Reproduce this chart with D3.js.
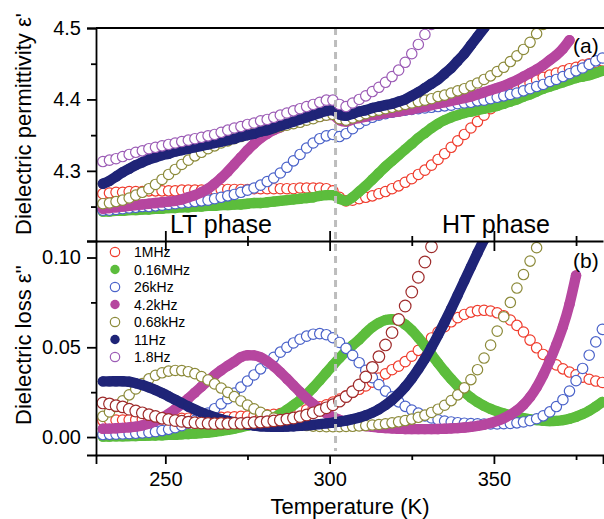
<!DOCTYPE html>
<html><head><meta charset="utf-8">
<script src="https://cdn.jsdelivr.net/npm/d3@7"></script>
<style>
html,body{margin:0;padding:0;background:#fff;}
svg{display:block;font-family:"Liberation Sans",Arial,sans-serif;}
</style></head>
<body><svg id="c" width="604" height="519"></svg>
<script>
// Temperature grid (K)
const temps = [231,233,235,237,239,241,243,245,247,249,251,253,255,257,259,261,263,265,267,269,271,273,275,277,279,281,283,285,287,289,291,293,295,297,299,301,303,305,307,309,311,313,315,317,319,321,323,325,327,329,331,333,335,337,339,341,343,345,347,349,351,353,355,357,359,361,363,365,367,369,371,373,375,377,379,381,383];

const seriesNames = ["1MHz","0.16MHz","26kHz","4.2kHz","0.68kHz","11Hz","1.8Hz"];

// (a) Dielectric permittivity ε'
const permit1MHz = [4.268,4.269,4.270,4.270,4.271,4.271,4.271,4.272,4.272,4.272,4.272,4.272,4.273,4.273,4.273,4.273,4.273,4.274,4.274,4.274,4.274,4.274,4.274,4.275,4.275,4.275,4.275,4.275,4.275,4.275,4.276,4.276,4.276,4.276,4.275,4.272,4.263,4.258,4.259,4.261,4.263,4.265,4.268,4.271,4.275,4.279,4.284,4.289,4.295,4.301,4.308,4.316,4.324,4.333,4.342,4.351,4.360,4.369,4.378,4.387,4.395,4.402,4.409,4.414,4.419,4.423,4.427,4.431,4.434,4.437,4.440,4.443,4.445,4.448,4.450,4.452,4.454];
const permit016MHz = [4.243,4.243,4.244,4.244,4.245,4.245,4.246,4.246,4.247,4.247,4.248,4.248,4.249,4.249,4.250,4.250,4.251,4.251,4.252,4.252,4.253,4.253,4.254,4.255,4.255,4.256,4.257,4.258,4.259,4.260,4.261,4.262,4.263,4.265,4.266,4.266,4.261,4.258,4.263,4.271,4.279,4.288,4.297,4.306,4.314,4.322,4.330,4.338,4.346,4.353,4.360,4.366,4.371,4.375,4.378,4.381,4.383,4.385,4.387,4.389,4.391,4.394,4.397,4.400,4.404,4.407,4.411,4.415,4.418,4.421,4.424,4.427,4.430,4.432,4.434,4.437,4.440];
const permit26kHz = [4.245,4.245,4.246,4.247,4.248,4.249,4.250,4.250,4.251,4.252,4.253,4.254,4.255,4.256,4.257,4.258,4.259,4.261,4.263,4.265,4.267,4.270,4.273,4.276,4.280,4.285,4.290,4.297,4.305,4.314,4.323,4.332,4.339,4.345,4.349,4.351,4.348,4.352,4.359,4.366,4.371,4.375,4.378,4.380,4.382,4.384,4.385,4.386,4.387,4.388,4.389,4.390,4.391,4.392,4.394,4.395,4.396,4.398,4.399,4.401,4.403,4.405,4.407,4.409,4.412,4.415,4.418,4.421,4.425,4.428,4.432,4.436,4.440,4.444,4.449,4.454,4.458];
const permit42kHz = [4.247,4.248,4.249,4.250,4.251,4.252,4.253,4.254,4.255,4.256,4.257,4.258,4.260,4.263,4.266,4.270,4.275,4.282,4.290,4.299,4.309,4.319,4.329,4.338,4.346,4.352,4.357,4.361,4.365,4.368,4.370,4.372,4.374,4.376,4.378,4.378,4.371,4.369,4.372,4.374,4.376,4.378,4.379,4.381,4.382,4.383,4.385,4.386,4.388,4.390,4.392,4.394,4.396,4.398,4.400,4.402,4.404,4.407,4.410,4.413,4.416,4.419,4.423,4.427,4.432,4.437,4.442,4.448,4.455,4.462,4.471,4.483];
const permit068kHz = [4.254,4.255,4.257,4.259,4.262,4.266,4.270,4.275,4.281,4.288,4.295,4.302,4.309,4.315,4.321,4.326,4.331,4.335,4.339,4.342,4.345,4.348,4.351,4.353,4.356,4.358,4.360,4.362,4.364,4.366,4.368,4.371,4.373,4.376,4.378,4.379,4.373,4.371,4.374,4.377,4.380,4.383,4.385,4.387,4.389,4.391,4.393,4.395,4.397,4.399,4.401,4.404,4.406,4.409,4.412,4.415,4.419,4.423,4.428,4.433,4.439,4.445,4.453,4.461,4.470,4.480,4.492,4.505];
const permit11Hz = [4.282,4.286,4.292,4.298,4.303,4.308,4.312,4.316,4.319,4.322,4.324,4.327,4.329,4.331,4.333,4.335,4.337,4.339,4.341,4.343,4.345,4.348,4.350,4.352,4.355,4.357,4.360,4.363,4.366,4.369,4.372,4.375,4.378,4.381,4.384,4.385,4.379,4.377,4.380,4.383,4.385,4.388,4.390,4.392,4.394,4.397,4.400,4.405,4.410,4.416,4.422,4.428,4.436,4.444,4.454,4.464,4.476,4.488,4.500,4.512];
const permit18Hz = [4.313,4.315,4.317,4.320,4.323,4.326,4.328,4.331,4.333,4.335,4.337,4.339,4.341,4.343,4.345,4.347,4.349,4.351,4.354,4.357,4.360,4.362,4.365,4.367,4.370,4.372,4.375,4.378,4.381,4.384,4.387,4.390,4.393,4.396,4.399,4.399,4.393,4.390,4.395,4.400,4.405,4.411,4.417,4.424,4.432,4.441,4.452,4.464,4.477,4.491,4.505];

// (b) Dielectric loss ε''
const loss1MHz = [0.0092,0.0093,0.0094,0.0095,0.0096,0.0097,0.0098,0.0099,0.0100,0.0101,0.0102,0.0103,0.0104,0.0105,0.0106,0.0107,0.0108,0.0109,0.0110,0.0111,0.0113,0.0115,0.0117,0.0119,0.0121,0.0124,0.0127,0.0131,0.0135,0.0140,0.0146,0.0152,0.0160,0.0169,0.0180,0.0195,0.0212,0.0230,0.0248,0.0266,0.0285,0.0306,0.0328,0.0352,0.0375,0.0395,0.0420,0.0450,0.0483,0.0517,0.0552,0.0585,0.0615,0.0642,0.0665,0.0683,0.0696,0.0704,0.0706,0.0702,0.0692,0.0676,0.0652,0.0622,0.0585,0.0540,0.0497,0.0460,0.0428,0.0402,0.0380,0.0362,0.0347,0.0334,0.0322,0.0312,0.0304];
const loss016MHz = [0.0003,0.0003,0.0004,0.0004,0.0005,0.0006,0.0007,0.0008,0.0009,0.0010,0.0012,0.0013,0.0015,0.0017,0.0019,0.0022,0.0025,0.0029,0.0034,0.0040,0.0047,0.0055,0.0064,0.0071,0.0080,0.0092,0.0108,0.0128,0.0152,0.0178,0.0205,0.0238,0.0275,0.0316,0.0358,0.0400,0.0440,0.0478,0.0512,0.0543,0.0580,0.0612,0.0636,0.0652,0.0656,0.0648,0.0627,0.0595,0.0554,0.0508,0.0460,0.0412,0.0366,0.0323,0.0284,0.0250,0.0220,0.0195,0.0174,0.0157,0.0143,0.0131,0.0121,0.0112,0.0105,0.0099,0.0094,0.0091,0.0089,0.0090,0.0094,0.0102,0.0113,0.0128,0.0147,0.0170,0.0195];
const loss26kHz = [0.0014,0.0015,0.0016,0.0017,0.0019,0.0021,0.0023,0.0026,0.0030,0.0036,0.0043,0.0052,0.0063,0.0077,0.0093,0.0112,0.0134,0.0158,0.0185,0.0214,0.0245,0.0278,0.0312,0.0346,0.0380,0.0413,0.0444,0.0473,0.0500,0.0524,0.0545,0.0562,0.0573,0.0576,0.0570,0.0553,0.0527,0.0494,0.0455,0.0414,0.0372,0.0331,0.0292,0.0256,0.0224,0.0196,0.0171,0.0150,0.0133,0.0118,0.0106,0.0096,0.0089,0.0084,0.0080,0.0077,0.0075,0.0074,0.0073,0.0073,0.0073,0.0074,0.0076,0.0079,0.0084,0.0091,0.0102,0.0118,0.0140,0.0170,0.0208,0.0256,0.0314,0.0382,0.0456,0.0530,0.0600];
const loss42kHz = [0.0046,0.0047,0.0049,0.0051,0.0054,0.0058,0.0065,0.0075,0.0089,0.0107,0.0129,0.0155,0.0184,0.0215,0.0248,0.0281,0.0313,0.0344,0.0372,0.0397,0.0420,0.0445,0.0456,0.0455,0.0444,0.0422,0.0394,0.0361,0.0325,0.0288,0.0251,0.0216,0.0184,0.0156,0.0132,0.0112,0.0096,0.0084,0.0074,0.0067,0.0061,0.0057,0.0053,0.0050,0.0048,0.0046,0.0045,0.0044,0.0044,0.0044,0.0044,0.0045,0.0046,0.0048,0.0050,0.0053,0.0057,0.0062,0.0069,0.0078,0.0090,0.0105,0.0124,0.0148,0.0180,0.0222,0.0277,0.0345,0.0425,0.0515,0.0615,0.0740,0.0900];
const loss068kHz = [0.0115,0.0140,0.0170,0.0202,0.0235,0.0268,0.0298,0.0324,0.0344,0.0358,0.0367,0.0371,0.0370,0.0364,0.0353,0.0337,0.0318,0.0296,0.0273,0.0249,0.0225,0.0201,0.0178,0.0157,0.0138,0.0121,0.0106,0.0093,0.0083,0.0075,0.0069,0.0064,0.0061,0.0059,0.0058,0.0058,0.0058,0.0059,0.0060,0.0062,0.0064,0.0067,0.0070,0.0074,0.0079,0.0085,0.0092,0.0100,0.0110,0.0122,0.0137,0.0155,0.0177,0.0203,0.0235,0.0274,0.0320,0.0375,0.0440,0.0512,0.0590,0.0670,0.0750,0.0830,0.0905,0.0980,0.1055,0.1130];
const loss11Hz = [0.0310,0.0310,0.0311,0.0311,0.0308,0.0300,0.0290,0.0277,0.0262,0.0245,0.0227,0.0208,0.0189,0.0170,0.0153,0.0137,0.0123,0.0110,0.0099,0.0090,0.0082,0.0075,0.0069,0.0064,0.0060,0.0058,0.0057,0.0057,0.0058,0.0060,0.0062,0.0065,0.0068,0.0072,0.0076,0.0080,0.0086,0.0092,0.0100,0.0109,0.0121,0.0136,0.0155,0.0178,0.0206,0.0240,0.0280,0.0326,0.0378,0.0436,0.0500,0.0568,0.0640,0.0715,0.0792,0.0870,0.0948,0.1025,0.1100,0.1180];
const loss18Hz = [0.0190,0.0185,0.0175,0.0168,0.0155,0.0145,0.0135,0.0125,0.0115,0.0105,0.0098,0.0092,0.0088,0.0083,0.0080,0.0078,0.0076,0.0075,0.0076,0.0075,0.0077,0.0076,0.0079,0.0081,0.0083,0.0086,0.0090,0.0094,0.0100,0.0106,0.0114,0.0123,0.0135,0.0148,0.0163,0.0180,0.0200,0.0225,0.0253,0.0290,0.0335,0.0388,0.0448,0.0513,0.0582,0.0655,0.0730,0.0808,0.0890,0.0975,0.1060,0.1150];

const xTicks = [250,300,350];
const xMinorTicks = [275,325,375];
const yTopTicks = [4.3,4.4,4.5];
const yTopMinor = [4.25,4.35,4.45];
const yBotTicks = [0.00,0.05,0.10];
const yBotMinor = [0.025,0.075];
const transitionT = 301.8;

// style lookup (kept separate from values)
const styles = {
  "1MHz":   {color:"#ef3b2c", filled:false},
  "0.16MHz":{color:"#5cbd3c", filled:true},
  "26kHz":  {color:"#4a62c9", filled:false},
  "4.2kHz": {color:"#b6469f", filled:true},
  "0.68kHz":{color:"#8c8a3a", filled:false},
  "11Hz":   {color:"#1f2477", filled:true},
  "1.8Hz":  {color:"#9b5bb5", filled:false}
};
const lossColor18 = "#9e2b2b";

const topSeries = [permit1MHz,permit016MHz,permit26kHz,permit42kHz,permit068kHz,permit11Hz,permit18Hz];
const botSeries = [loss1MHz,loss016MHz,loss26kHz,loss42kHz,loss068kHz,loss11Hz,loss18Hz];

const svg = d3.select("#c");
const L = 96, R = 603, T0 = 28, MID = 241, B = 455;
const x = d3.scaleLinear().domain([228.9, 383.2]).range([L, R]);
const yA = d3.scaleLinear().domain([4.2018, 4.5]).range([MID, T0]);
const yB = d3.scaleLinear().domain([-0.0100, 0.1092]).range([B, MID]);

const defs = svg.append("defs");
defs.append("clipPath").attr("id","clipA").append("rect").attr("x",L).attr("y",T0).attr("width",R-L+2).attr("height",MID-T0);
defs.append("clipPath").attr("id","clipB").append("rect").attr("x",L).attr("y",MID).attr("width",R-L+2).attr("height",B-MID);

function drawPanel(g, y, data, clip, colorOverride){
  const layer = g.append("g").attr("clip-path","url(#"+clip+")");
  data.forEach((vals, si) => {
    const name = seriesNames[si];
    const st = styles[name];
    let col = st.color;
    if (colorOverride && colorOverride[name]) col = colorOverride[name];
    const pts = vals.map((v,i)=>[temps[i], v]);
    const r = 5.2;
    if (st.filled){
      layer.append("path").datum(pts)
        .attr("d", d3.line().x(d=>x(d[0])).y(d=>y(d[1])).curve(d3.curveMonotoneX))
        .attr("fill","none").attr("stroke",col).attr("stroke-width",2*r)
        .attr("stroke-linecap","round").attr("stroke-linejoin","round");
      layer.selectAll(null).data(pts).enter().append("circle")
        .attr("cx",d=>x(d[0])).attr("cy",d=>y(d[1])).attr("r",r).attr("fill",col);
    } else {
      const rr = (colorOverride && colorOverride[name]) ? 5.8 : r;
      layer.selectAll(null).data(pts).enter().append("circle")
        .attr("cx",d=>x(d[0])).attr("cy",d=>y(d[1])).attr("r",rr)
        .attr("fill","#fff").attr("stroke",col).attr("stroke-width",1.2);
    }
  });
}

const gA = svg.append("g");
const gB = svg.append("g");

// dashed transition line
svg.append("line").attr("x1",x(transitionT)).attr("x2",x(transitionT))
  .attr("y1",T0).attr("y2",451).attr("stroke","#bdbdbd").attr("stroke-width",3)
  .attr("stroke-dasharray","7,5");

drawPanel(gA, yA, topSeries, "clipA", null);
drawPanel(gB, yB, botSeries, "clipB", {"1.8Hz": lossColor18});

// axes
function styleAxis(sel){
  sel.selectAll("path,line").attr("stroke","#000").attr("stroke-width",1.8);
  sel.selectAll("text").attr("font-size","20px").attr("fill","#000")
    .attr("font-family","'Liberation Sans',Arial,sans-serif");
}
// top panel left axis
svg.append("g").attr("transform",`translate(${L},0)`)
  .call(d3.axisLeft(yA).tickValues(yTopTicks).tickSize(9).tickPadding(6).tickFormat(d3.format(".1f")))
  .call(styleAxis);
svg.append("g").attr("transform",`translate(${L},0)`)
  .call(d3.axisLeft(yA).tickValues(yTopMinor).tickSize(5).tickFormat("")).call(styleAxis)
  .select(".domain").remove();
// bottom panel left axis
svg.append("g").attr("transform",`translate(${L},0)`)
  .call(d3.axisLeft(yB).tickValues(yBotTicks).tickSize(9).tickPadding(6).tickFormat(d3.format(".2f")))
  .call(styleAxis);
svg.append("g").attr("transform",`translate(${L},0)`)
  .call(d3.axisLeft(yB).tickValues(yBotMinor).tickSize(5).tickFormat("")).call(styleAxis)
  .select(".domain").remove();
// bottom x axis
svg.append("g").attr("transform",`translate(0,${B})`)
  .call(d3.axisBottom(x).tickValues(xTicks).tickSize(9).tickPadding(8).tickFormat(d3.format("d")))
  .call(styleAxis);
svg.append("g").attr("transform",`translate(0,${B})`)
  .call(d3.axisBottom(x).tickValues(xMinorTicks).tickSize(5).tickFormat("")).call(styleAxis)
  .select(".domain").remove();
// middle boundary: ticks up (panel a) and down (panel b)
svg.append("g").attr("transform",`translate(0,${MID})`)
  .call(d3.axisBottom(x).tickValues(xTicks).tickSizeInner(-10).tickSizeOuter(0).tickFormat(""))
  .call(styleAxis);
svg.append("g").attr("transform",`translate(0,${MID})`)
  .call(d3.axisTop(x).tickValues(xTicks).tickSizeInner(-10).tickSizeOuter(0).tickFormat(""))
  .call(styleAxis).select(".domain").remove();
svg.append("g").attr("transform",`translate(0,${MID})`)
  .call(d3.axisBottom(x).tickValues(xMinorTicks).tickSizeInner(-5).tickSizeOuter(0).tickFormat(""))
  .call(styleAxis).select(".domain").remove();
svg.append("g").attr("transform",`translate(0,${MID})`)
  .call(d3.axisTop(x).tickValues(xMinorTicks).tickSizeInner(-5).tickSizeOuter(0).tickFormat(""))
  .call(styleAxis).select(".domain").remove();
// top frame line
svg.append("line").attr("x1",L).attr("x2",R+1).attr("y1",T0).attr("y2",T0)
  .attr("stroke","#000").attr("stroke-width",1.8);

// titles
svg.append("text").attr("x",350).attr("y",514).attr("text-anchor","middle")
  .attr("font-size","22px").text("Temperature (K)");
svg.append("text").attr("transform","translate(31,124) rotate(-90)").attr("text-anchor","middle")
  .attr("font-size","22px").text("Dielectric permittivity ε'");
svg.append("text").attr("transform","translate(31,345) rotate(-90)").attr("text-anchor","middle")
  .attr("font-size","22px").text("Dielectric loss ε''");

// annotations
svg.append("text").attr("x",170).attr("y",233).attr("font-size","25px").text("LT phase");
svg.append("text").attr("x",442).attr("y",233).attr("font-size","25px").text("HT phase");
svg.append("text").attr("x",573).attr("y",53).attr("font-size","21px").text("(a)");
svg.append("text").attr("x",573).attr("y",268).attr("font-size","21px").text("(b)");

// legend
const lg = svg.append("g");
seriesNames.forEach((name,i)=>{
  const st = styles[name];
  const cy = 252 + i*17.5;
  lg.append("circle").attr("cx",115).attr("cy",cy).attr("r",4.7)
    .attr("fill", st.filled ? st.color : "#fff")
    .attr("stroke", st.color).attr("stroke-width", st.filled?0:1.2);
  lg.append("text").attr("x",134).attr("y",cy).attr("dy","0.36em")
    .attr("font-size","14px").text(name);
});
</script></body></html>
